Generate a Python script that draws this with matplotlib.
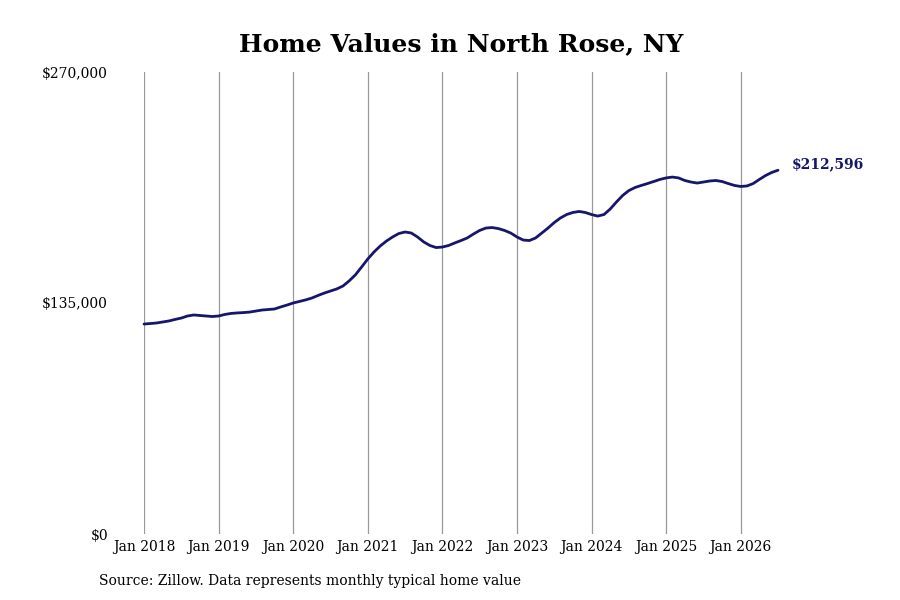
import matplotlib
matplotlib.use("Agg")
import matplotlib.pyplot as plt
import numpy as np

# monthly typical home value, Jan 2018 .. Jul 2026
values = [
    122700, 123000, 123300, 123900, 124500, 125400, 126200, 127400, 128000, 127700, 127400, 127100,
    127400, 128300, 128900, 129200, 129400, 129700, 130300, 130900, 131200, 131500, 132700, 133800,
    135000, 135900, 136800, 137900, 139400, 140800, 142000, 143200, 144900, 147900, 151400, 156000,
    160700, 164800, 168300, 171200, 173600, 175600, 176500, 175900, 173600, 170700, 168600, 167400,
    167700, 168600, 170100, 171500, 173000, 175300, 177400, 178800, 179100, 178500, 177400, 175900,
    173600, 171800, 171500, 173000, 175900, 178800, 182000, 184700, 186700, 187900, 188500, 187900,
    186700, 185800, 186700, 189900, 194000, 197800, 200700, 202500, 203700, 204800, 206000, 207200,
    208100, 208600, 208100, 206600, 205700, 205100, 205700, 206300, 206600, 206000, 204800, 203700,
    203100, 203400, 204800, 207200, 209500, 211300, 212596,
]
tick_years = [2018, 2019, 2020, 2021, 2022, 2023, 2024, 2025, 2026]
y_ticks = [0, 135000, 270000]
y_labels = ["$0", "$135,000", "$270,000"]
last_label = "$212,596"

NAVY = "#16166b"
plt.rcParams["font.family"] = ["DejaVu Serif"]

months = np.arange(len(values))
tick_pos = [(y - 2018) * 12 for y in tick_years]

fig = plt.figure(figsize=(9, 6), dpi=100)
ax = fig.add_axes([144 / 900, 66 / 600, 634 / 900, 462 / 600])

ax.plot(months, values, color=NAVY, lw=2.0, clip_on=False, solid_capstyle="round")
ax.set_xlim(0, len(values) - 1)
ax.set_ylim(0, 270000)

ax.set_xticks(tick_pos)
ax.set_xticklabels([f"Jan {y}" for y in tick_years], fontsize=10)
ax.set_yticks(y_ticks)
ax.set_yticklabels(y_labels, fontsize=10)
ax.tick_params(length=0)
ax.tick_params(axis="y", pad=26)
ax.tick_params(axis="x", pad=4)

for p in tick_pos:
    ax.axvline(p, color="#999999", lw=0.9, zorder=0)

for s in ax.spines.values():
    s.set_visible(False)

ax.annotate(last_label, (months[-1], values[-1]), xytext=(10, 4), textcoords="offset points",
            fontsize=10, fontweight="bold", color=NAVY, va="center", ha="left")

fig.text(461 / 900, 1 - 44 / 600, "Home Values in North Rose, NY", ha="center", va="center",
         fontsize=18, fontweight="bold")
fig.text(99 / 900, 1 - 581 / 600, "Source: Zillow. Data represents monthly typical home value",
         ha="left", va="center", fontsize=10)

fig.savefig("out.png", dpi=100)
